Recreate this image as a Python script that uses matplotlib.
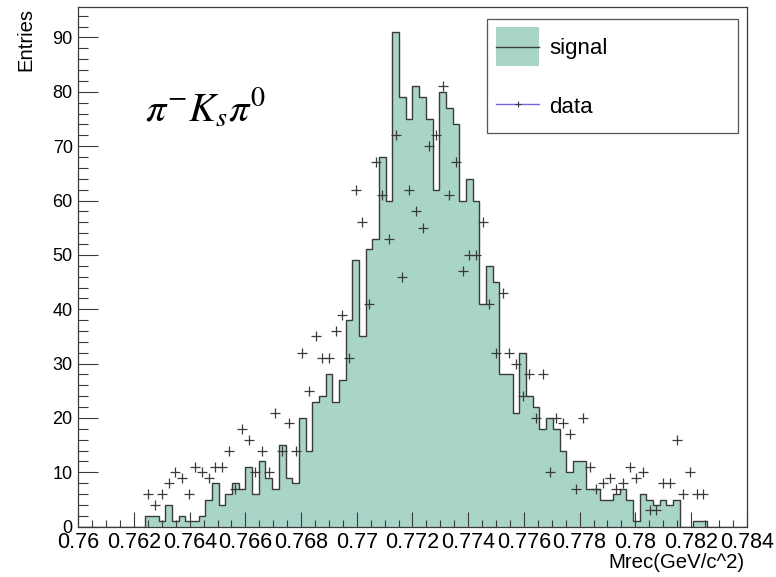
import numpy as np
import matplotlib.pyplot as plt
from matplotlib.ticker import MultipleLocator, FuncFormatter
from matplotlib.patches import Rectangle
from matplotlib.lines import Line2D

# histogram binning: 100 bins between 0.76 and 0.784
x_min, x_max, n_bins = 0.76, 0.784, 100

# MC signal (filled histogram), one value per bin
signal = [0, 0, 0, 0, 0, 0, 0, 0, 0, 0,
          2, 2, 1, 4, 1, 2, 1, 1, 2, 5,
          8, 4, 6, 8, 7, 11, 6, 12, 9, 7,
          15, 9, 8, 20, 14, 23, 24, 28, 23, 27,
          38, 49, 35, 51, 53, 68, 60, 91, 79, 75,
          81, 79, 75, 62, 80, 77, 74, 60, 64, 60,
          41, 48, 45, 28, 28, 21, 32, 24, 22, 18,
          20, 18, 14, 10, 12, 12, 7, 7, 5, 5,
          6, 7, 5, 1, 6, 5, 4, 5, 4, 5,
          0, 0, 1, 1, 0, 0, 0, 0, 0, 0]

# data points, one value per bin
data = [0, 0, 0, 0, 0, 0, 0, 0, 0, 0,
        6, 4, 6, 8, 10, 9, 6, 11, 10, 9,
        11, 11, 14, 7, 18, 16, 10, 14, 10, 21,
        14, 19, 14, 32, 25, 35, 31, 31, 36, 39,
        31, 62, 56, 41, 67, 61, 53, 72, 46, 62,
        58, 55, 70, 72, 81, 61, 67, 47, 50, 50,
        56, 41, 32, 43, 32, 30, 24, 28, 20, 28,
        10, 20, 19, 17, 7, 20, 11, 7, 8, 9,
        7, 8, 11, 9, 10, 3, 3, 8, 8, 16,
        6, 10, 6, 6, 0, 0, 0, 0, 0, 0]

legend_labels = ['signal', 'data']
x_title = 'Mrec(GeV/c^2)'
y_title = 'Entries'
channel = r'$\pi^{-}K_{s}\pi^{0}$'

fill_col = '#a9d5c9'
line_col = '#3a3a3a'
data_line_col = '#7468e6'

plt.rcParams['font.family'] = ['Liberation Sans', 'DejaVu Sans']
plt.rcParams['mathtext.fontset'] = 'stix'

W, H = 776, 577
fig = plt.figure(figsize=(W / 100, H / 100), dpi=100)
ax = fig.add_axes([78.3 / W, 1 - 526.7 / H, (746.7 - 78.3) / W, (526.7 - 7.3) / H])

edges = np.linspace(x_min, x_max, n_bins + 1)
centers = 0.5 * (edges[:-1] + edges[1:])
signal = np.array(signal)
data = np.array(data)

ax.stairs(signal, edges, fill=True, facecolor=fill_col, edgecolor='none')
ax.stairs(signal, edges, color=line_col, lw=1.0)

m = data > 0
ax.plot(centers[m], data[m], '+', color=line_col, ms=7.5, mew=0.9)

ax.set_xlim(x_min, x_max)
ax.set_ylim(0, 1.05 * signal.max())

ax.xaxis.set_major_locator(MultipleLocator(0.002))
ax.xaxis.set_minor_locator(MultipleLocator(0.0005))
ax.yaxis.set_major_locator(MultipleLocator(10))
ax.yaxis.set_minor_locator(MultipleLocator(2))
ax.xaxis.set_major_formatter(FuncFormatter(lambda v, p: '{:g}'.format(round(v, 4))))

ax.tick_params(axis='x', which='major', direction='in', length=10.5, width=0.8,
               color=line_col, labelsize=15.5, pad=3.5)
ax.tick_params(axis='x', which='minor', direction='in', length=5.4, width=0.8, color=line_col)
ax.tick_params(axis='y', which='major', direction='in', length=14.4, width=0.8,
               color=line_col, labelsize=13, pad=4)
ax.tick_params(axis='y', which='minor', direction='in', length=7.2, width=0.8, color=line_col)
for s in ax.spines.values():
    s.set_color(line_col)
    s.set_linewidth(0.9)

# axis titles, placed like ROOT does (top / right aligned)
fig.text(25.5 / W, 1 - 8 / H, y_title, rotation=90, ha='center', va='top', fontsize=14.6)
fig.text(745 / W, 1 - 563 / H, x_title, ha='right', va='center', fontsize=14.7)

# channel label
ax.text((145 - 78.3) / 668.4, (526.7 - 122) / 519.4, channel, transform=ax.transAxes,
        fontsize=29, va='baseline', ha='left')

# legend box
def fx(px):
    return px / W

def fy(py):
    return 1 - py / H

fig.add_artist(Rectangle((fx(486.7), fy(132.7)), fx(737.7) - fx(486.7), fy(19) - fy(132.7),
                         transform=fig.transFigure, facecolor='white', edgecolor='#555555', lw=0.9))
fig.add_artist(Rectangle((fx(496), fy(66)), fx(539) - fx(496), fy(27.3) - fy(66),
                         transform=fig.transFigure, facecolor=fill_col, edgecolor='none'))
fig.add_artist(Line2D([fx(496), fx(539)], [fy(46.7), fy(46.7)], transform=fig.transFigure,
                      color=line_col, lw=1.0))
fig.add_artist(Line2D([fx(496), fx(539)], [fy(104.3), fy(104.3)], transform=fig.transFigure,
                      color=data_line_col, lw=1.0))
fig.add_artist(Line2D([fx(517.5)], [fy(104.3)], transform=fig.transFigure, marker='+',
                      color=line_col, ms=5, mew=0.8))
fig.text(fx(549), fy(54.3), legend_labels[0], fontsize=16, va='baseline', ha='left')
fig.text(fx(549), fy(113.3), legend_labels[1], fontsize=16, va='baseline', ha='left')

fig.savefig('out.png', dpi=100)
